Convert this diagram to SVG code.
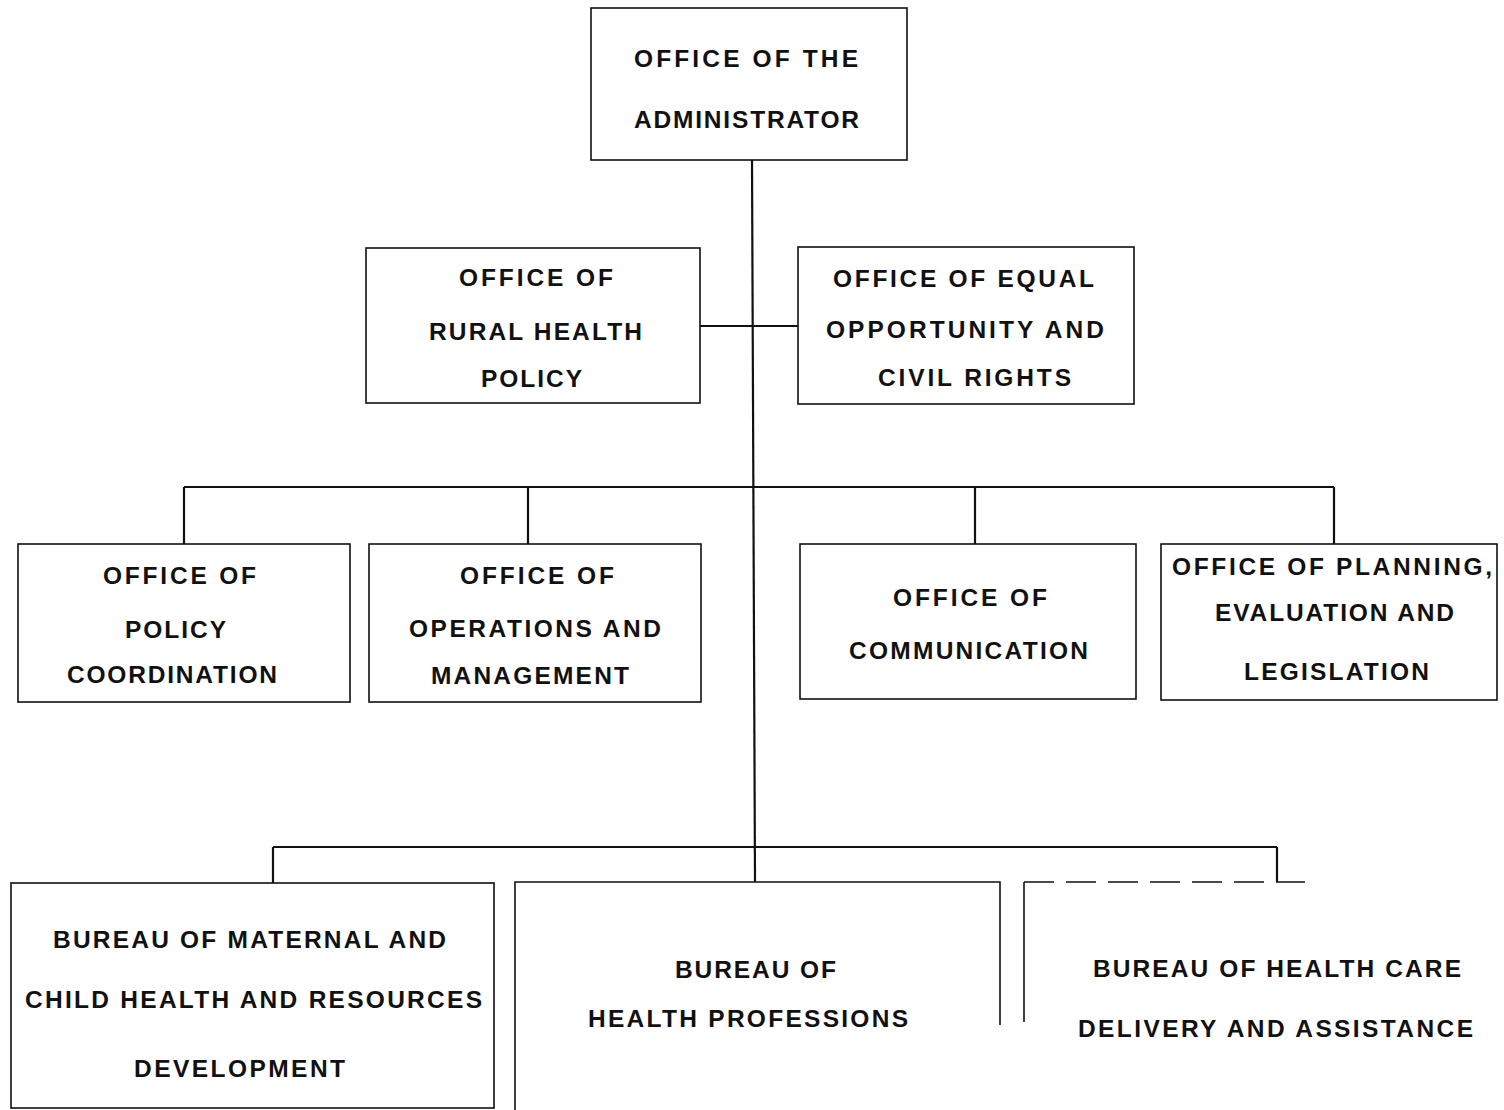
<svg xmlns="http://www.w3.org/2000/svg" width="1504" height="1110" viewBox="0 0 1504 1110">
<style>
.box{fill:none;stroke:#111;stroke-width:1.6}
.ln{fill:none;stroke:#111;stroke-width:2.2}
.t{font-family:"Liberation Sans",Arial,sans-serif;font-weight:bold;font-size:24.5px;fill:#111}
</style>
<rect width="1504" height="1110" fill="#fff"/>
<g id="connectors">
<path class="ln" d="M752 160 L755 882"/>
<path class="ln" d="M700 326 H798"/>
<path class="ln" d="M184 487 H1334 M184 487 V544 M528 487 V544 M975 487 V544 M1334 487 V544"/>
<path class="ln" d="M273 847 H1277 M273 847 V883 M1277 847 V882"/>
</g>
<g id="n-admin">
<rect class="box" x="591" y="8" width="316" height="152"/>
<text class="t" x="634" y="67" textLength="224" lengthAdjust="spacing">OFFICE OF THE</text>
<text class="t" x="634" y="128" textLength="225" lengthAdjust="spacing">ADMINISTRATOR</text>
</g>
<g id="n-rural">
<rect class="box" x="366" y="248" width="334" height="155"/>
<text class="t" x="459" y="286" textLength="154" lengthAdjust="spacing">OFFICE OF</text>
<text class="t" x="429" y="340" textLength="213" lengthAdjust="spacing">RURAL HEALTH</text>
<text class="t" x="481" y="387" textLength="101" lengthAdjust="spacing">POLICY</text>
</g>
<g id="n-equal">
<rect class="box" x="798" y="247" width="336" height="157"/>
<text class="t" x="833" y="287" textLength="261" lengthAdjust="spacing">OFFICE OF EQUAL</text>
<text class="t" x="826" y="338" textLength="278" lengthAdjust="spacing">OPPORTUNITY AND</text>
<text class="t" x="878" y="386" textLength="193" lengthAdjust="spacing">CIVIL RIGHTS</text>
</g>
<g id="n-policy">
<rect class="box" x="18" y="544" width="332" height="158"/>
<text class="t" x="103" y="584" textLength="153" lengthAdjust="spacing">OFFICE OF</text>
<text class="t" x="125" y="638" textLength="101" lengthAdjust="spacing">POLICY</text>
<text class="t" x="67" y="683" textLength="210" lengthAdjust="spacing">COORDINATION</text>
</g>
<g id="n-operations">
<rect class="box" x="369" y="544" width="332" height="158"/>
<text class="t" x="460" y="584" textLength="154" lengthAdjust="spacing">OFFICE OF</text>
<text class="t" x="409" y="637" textLength="252" lengthAdjust="spacing">OPERATIONS AND</text>
<text class="t" x="431" y="684" textLength="198" lengthAdjust="spacing">MANAGEMENT</text>
</g>
<g id="n-communication">
<rect class="box" x="800" y="544" width="336" height="155"/>
<text class="t" x="893" y="606" textLength="154" lengthAdjust="spacing">OFFICE OF</text>
<text class="t" x="849" y="659" textLength="239" lengthAdjust="spacing">COMMUNICATION</text>
</g>
<g id="n-planning">
<rect class="box" x="1161" y="544" width="336" height="156"/>
<text class="t" x="1172" y="575" textLength="320" lengthAdjust="spacing">OFFICE OF PLANNING,</text>
<text class="t" x="1215" y="621" textLength="239" lengthAdjust="spacing">EVALUATION AND</text>
<text class="t" x="1244" y="680" textLength="185" lengthAdjust="spacing">LEGISLATION</text>
</g>
<g id="n-mch">
<rect class="box" x="11" y="883" width="483" height="225"/>
<text class="t" x="53" y="948" textLength="393" lengthAdjust="spacing">BUREAU OF MATERNAL AND</text>
<text class="t" x="25" y="1008" textLength="457" lengthAdjust="spacing">CHILD HEALTH AND RESOURCES</text>
<text class="t" x="134" y="1077" textLength="211" lengthAdjust="spacing">DEVELOPMENT</text>
</g>
<g id="n-professions">
<path class="box" d="M515 1110 V882 H1000 V1025"/>
<text class="t" x="675" y="978" textLength="161" lengthAdjust="spacing">BUREAU OF</text>
<text class="t" x="588" y="1027" textLength="320" lengthAdjust="spacing">HEALTH PROFESSIONS</text>
</g>
<g id="n-healthcare">
<path class="box" d="M1024 1022 V882"/>
<path class="box" d="M1024 882 H1305" stroke-dasharray="30 12"/>
<text class="t" x="1093" y="977" textLength="368" lengthAdjust="spacing">BUREAU OF HEALTH CARE</text>
<text class="t" x="1078" y="1037" textLength="395" lengthAdjust="spacing">DELIVERY AND ASSISTANCE</text>
</g>
</svg>
